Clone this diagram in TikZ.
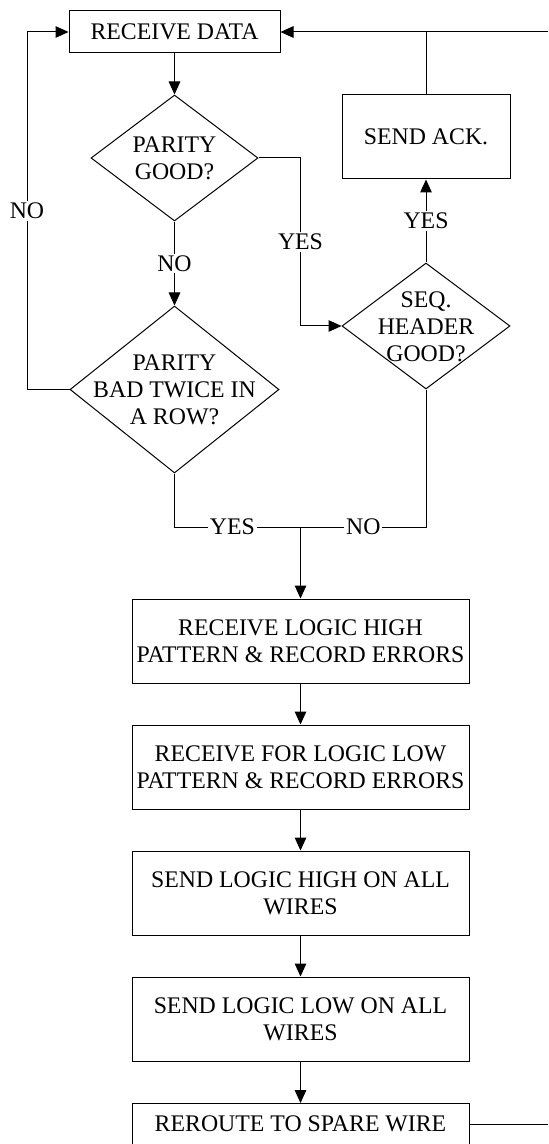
\documentclass[tikz,border=0pt]{standalone}
\usepackage{fontspec}
\setmainfont{Liberation Serif}
\usepackage{tikz}
\usetikzlibrary{calc}
\usetikzlibrary{arrows.meta}
\usetikzlibrary{shapes.geometric}
\tikzset{box/.style={draw, rectangle, inner sep=0pt, align=center, font=\fontsize{11.9pt}{13.5pt}\selectfont},
 wide/.style={minimum width=168.5pt, minimum height=42pt},
 decide/.style={draw, diamond, inner sep=0pt, font=\fontsize{11.9pt}{13.5pt}\selectfont},
 flow/.style={-{Triangle[length=6.5pt,width=5.8pt]}},
 tag/.style={fill=white, inner sep=1pt, font=\fontsize{11.9pt}{13.5pt}\selectfont}}
\newcommand{\dtext}[1]{\smash{\makebox[0pt]{\raisebox{-4.5pt}{\begin{tabular}{@{}c@{}}#1\end{tabular}}}}}

\begin{document}
\begin{tikzpicture}[x=0.5pt, y=-0.5pt, line width=0.5pt]
\useasboundingbox (0,0) rectangle (548,1144);
\node[box, minimum width=105.5pt, minimum height=21pt] (recv) at (174.5,32) {RECEIVE DATA};
\node[decide, minimum width=83.5pt, minimum height=63pt] (pgood) at (174.5,158) {\dtext{PARITY\\GOOD?}};
\node[decide, minimum width=104.5pt, minimum height=83.5pt] (pbad) at (174.5,389.5) {\dtext{PARITY\\BAD TWICE IN\\A ROW?}};
\node[decide, minimum width=84pt, minimum height=63pt] (seq) at (426,326) {\dtext{SEQ.\\HEADER\\GOOD?}};
\node[box, minimum width=84pt, minimum height=42pt] (ack) at (426,137) {SEND ACK.};
\node[box, wide] (hipat) at (300.5,641) {RECEIVE LOGIC HIGH\\PATTERN \& RECORD ERRORS};
\node[box, wide] (lopat) at (300.5,767) {RECEIVE FOR LOGIC LOW\\PATTERN \& RECORD ERRORS};
\node[box, wide] (sendhi) at (300.5,893) {SEND LOGIC HIGH ON ALL\\WIRES};
\node[box, wide] (sendlo) at (300.5,1019) {SEND LOGIC LOW ON ALL\\WIRES};
\node[box, wide, anchor=north, text height=14pt, text depth=30pt] (spare) at (300.5,1103) {REROUTE TO SPARE WIRE};
\coordinate (topin) at (548,32);
\coordinate (noloop) at (27,32);
\coordinate (join) at (300.5,527);
\coordinate (spareout) at (548,1124);

\draw[flow] (recv) -- (pgood);
\draw[flow] (pgood) -- node[tag] {NO} (pbad);
\draw[flow] (pgood.east) -| node[tag, pos=0.75] {YES} (join |- seq.west) -- (seq.west);
\draw[flow] (seq) -- node[tag] {YES} (ack);
\draw (ack) -- (ack |- recv);
\draw[flow] (topin) -- (recv);
\draw[flow] (pbad.west) -| node[tag, pos=0.75] {NO} (noloop) -- (recv.west);
\draw (pbad.south) |- node[tag, pos=0.73] {YES} (join);
\draw (seq.south) |- node[tag, pos=0.75] {NO} (join);
\draw[flow] (join) -- (hipat);
\foreach \a/\b in {hipat/lopat, lopat/sendhi, sendhi/sendlo, sendlo/spare}
 \draw[flow] (\a) -- (\b);
\draw (spare.north east |- spareout) -- (spareout);
\end{tikzpicture}
\end{document}
